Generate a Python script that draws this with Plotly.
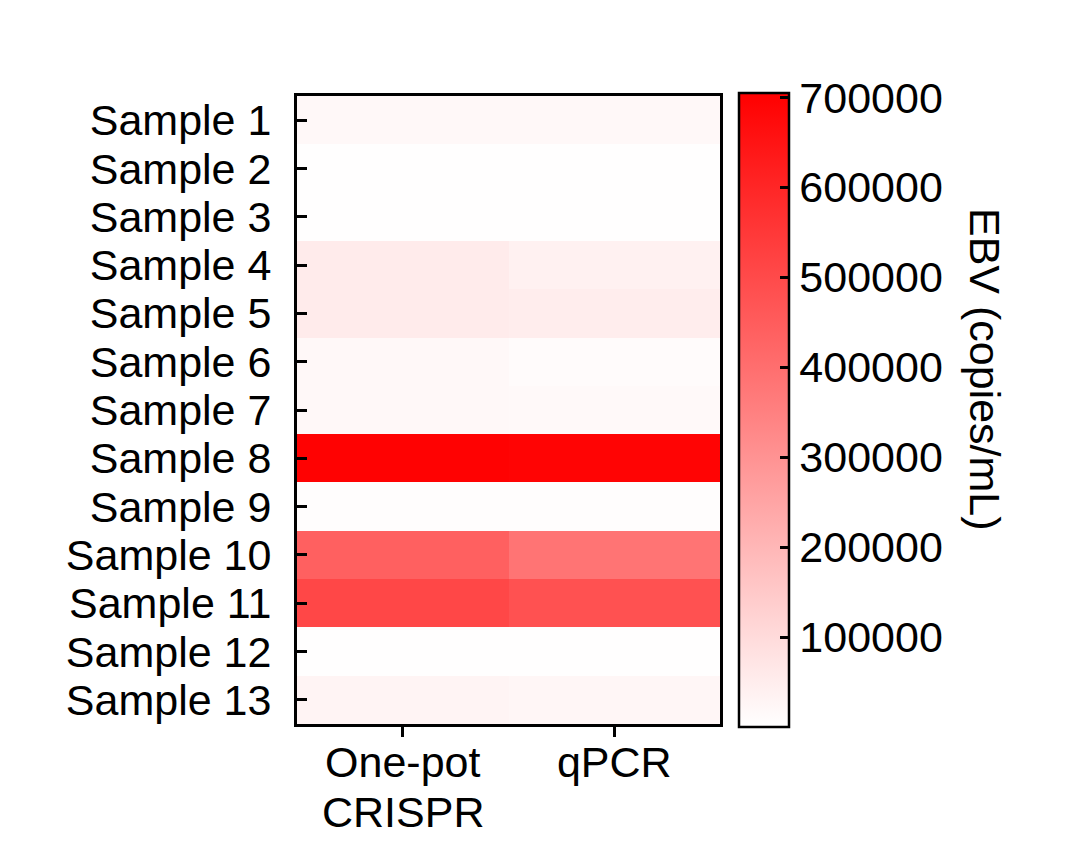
import plotly.graph_objects as go

samples = [f"Sample {i}" for i in range(1, 14)]
methods = ["One-pot CRISPR", "qPCR"]
method_line1 = ["One-pot", "qPCR"]
method_line2 = ["CRISPR", ""]
crispr = [20000, 3000, 3000, 55000, 55000, 20000, 20000, 700000, 5000, 440000, 510000, 3000, 30000]
qpcr = [18000, 3000, 3000, 40000, 50000, 12000, 16000, 695000, 5000, 385000, 480000, 4000, 25000]
cbar_ticks = [100000, 200000, 300000, 400000, 500000, 600000, 700000]
ZMIN, ZMAX = 0, 705000

z = [[c, q] for c, q in zip(crispr, qpcr)]

FONT = "Liberation Sans, Arial, sans-serif"
FS = 43
CB_X, CB_LEN, CB_THICK = 1.0449, 1.01, 50
ML, MT, PW, PH = 289, 88, 423, 628
fig = go.Figure(go.Heatmap(
    z=z, x=methods, y=samples,
    colorscale=[[0, "#ffffff"], [1, "#ff0000"]],
    zmin=ZMIN, zmax=ZMAX,
    colorbar=dict(
        thickness=CB_THICK, thicknessmode="pixels",
        len=CB_LEN, lenmode="fraction",
        x=CB_X, xanchor="left", xpad=0,
        y=0.5, yanchor="middle", ypad=0,
        outlinewidth=2.5, outlinecolor="black",
        tickvals=cbar_ticks, ticktext=[str(v) for v in cbar_ticks],
        ticks="inside", ticklen=10, tickwidth=2.5, tickcolor="black",
        tickfont=dict(family=FONT, size=FS, color="black"),
        title=dict(text=""),
    ),
))

# left-side ticks of the colour bar (mirror of the right-side ticks)
for v in cbar_ticks:
    yp = 0.5 - CB_LEN / 2 + CB_LEN * (v - ZMIN) / (ZMAX - ZMIN)
    fig.add_shape(type="line", xref="paper", yref="paper",
                  x0=CB_X, x1=CB_X + 10 / PW, y0=yp, y1=yp,
                  line=dict(color="black", width=2.5))

fig.add_annotation(text="EBV (copies/mL)", xref="paper", yref="paper",
                   x=1.627, y=0.565, xanchor="center", yanchor="middle",
                   textangle=90, showarrow=False,
                   font=dict(family=FONT, size=FS, color="black"))

for m, l2 in zip(methods, method_line2):
    if l2:
        fig.add_annotation(text=l2, xref="x", yref="paper", x=m, y=-0.14,
                           xanchor="center", yanchor="middle", showarrow=False,
                           font=dict(family=FONT, size=FS, color="black"))

fig.update_layout(
    width=1081, height=849,
    margin=dict(l=ML, r=1081 - ML - PW, t=MT, b=849 - MT - PH, autoexpand=False),
    plot_bgcolor="white", paper_bgcolor="white",
    font=dict(family=FONT, size=FS, color="black"),
)
fig.update_yaxes(autorange="reversed", showline=True, linecolor="black", linewidth=3,
                 mirror=True, ticks="inside", ticklen=10, tickwidth=3, tickcolor="black",
                 tickmode="array", tickvals=samples, ticktext=samples,
                 ticklabelstandoff=14,
                 tickfont=dict(family=FONT, size=FS, color="black"), showgrid=False)
fig.update_xaxes(showline=True, linecolor="black", linewidth=3, mirror=True,
                 ticks="outside", ticklen=10, tickwidth=3, tickcolor="black",
                 tickmode="array", tickvals=methods, ticktext=method_line1,
                 ticklabelstandoff=-12,
                 tickfont=dict(family=FONT, size=FS, color="black"), showgrid=False)

fig.write_html("out.html")
